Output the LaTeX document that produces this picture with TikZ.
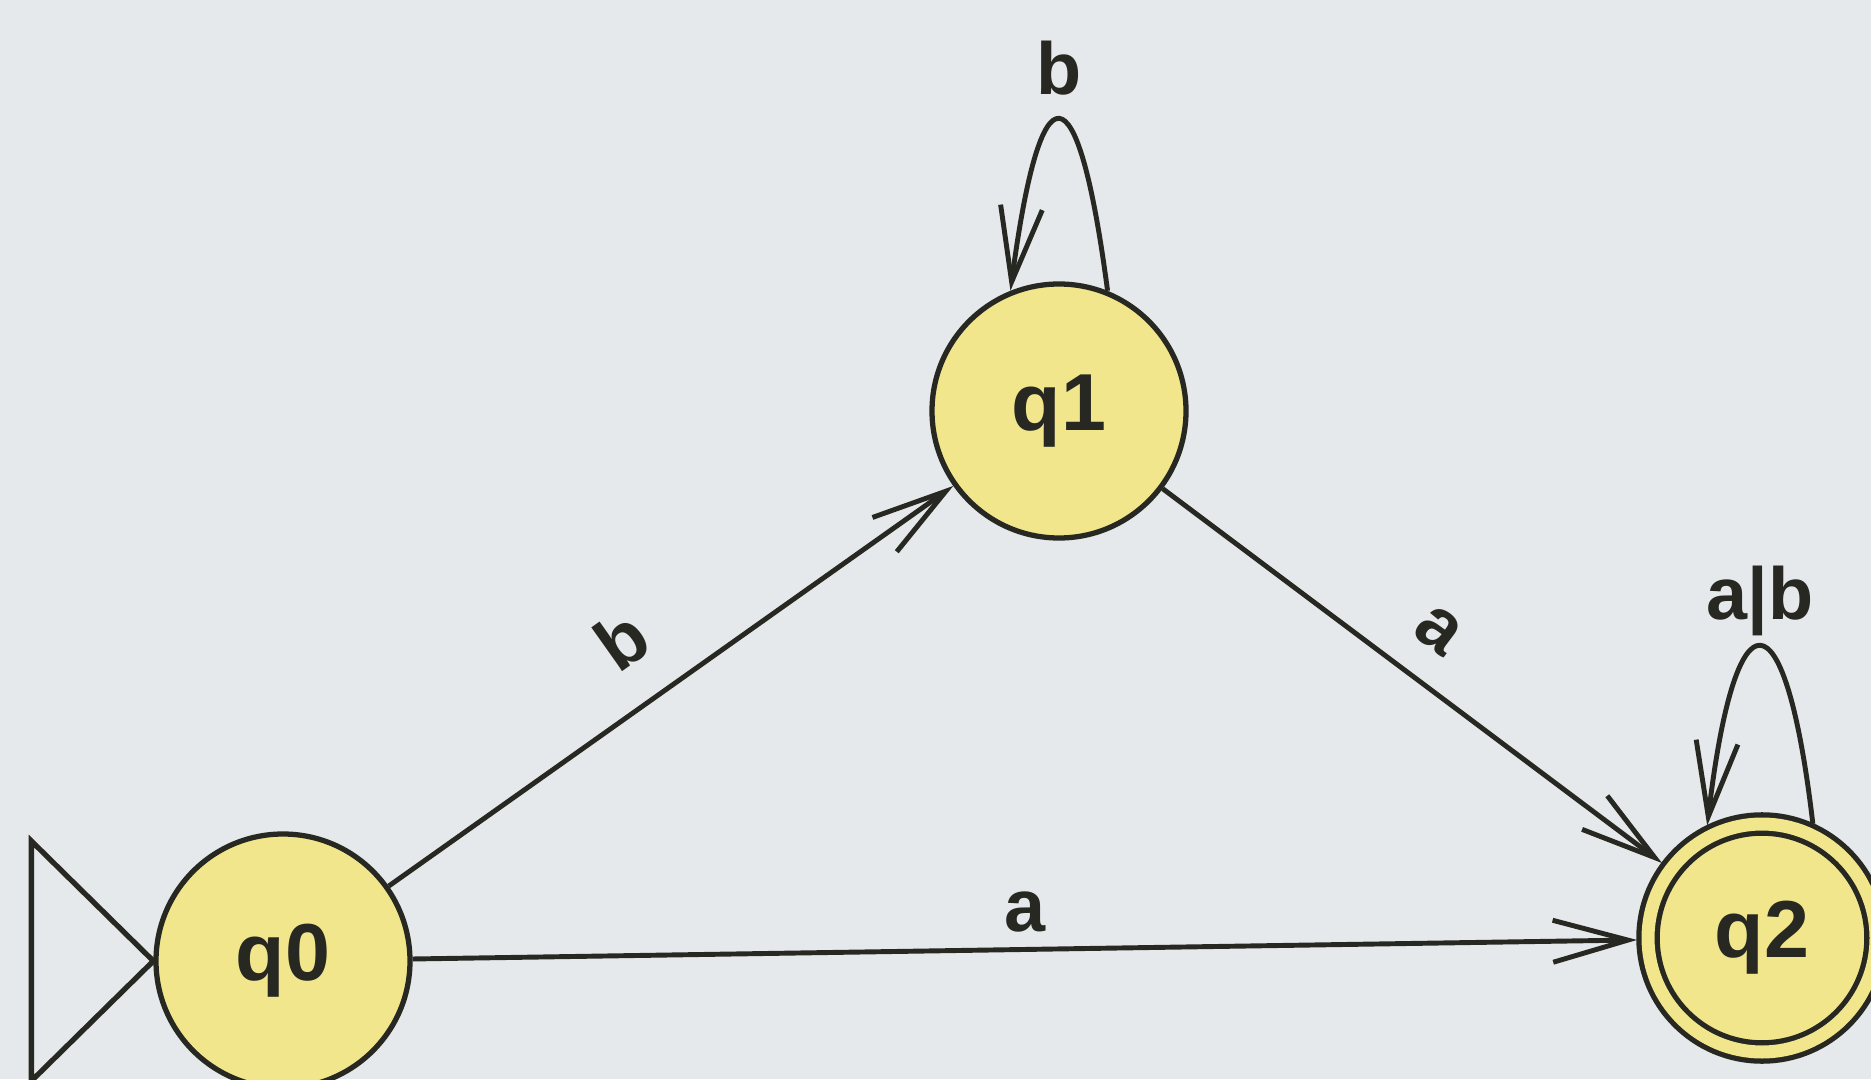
\documentclass[tikz,border=0pt]{standalone}
\usepackage{fontspec}
\setmainfont{Liberation Sans}
\usetikzlibrary{arrows.meta}
\definecolor{paper}{RGB}{229,233,235}
\definecolor{statefill}{RGB}{241,230,140}
\definecolor{ink}{RGB}{40,40,34}

\begin{document}
\begin{tikzpicture}[
  state/.style={circle, draw=ink, fill=statefill, line width=1.5pt, minimum size=2.54cm, inner sep=0pt, text=ink, font=\fontsize{23}{23}\selectfont\bfseries},
  accepting/.style={double=statefill, double distance=1.3mm, minimum size=2.28cm, outer sep=1.1mm},
  edge/.style={draw=ink, line width=1.4pt, -{Straight Barb[length=7.5mm,width=4.2mm]}},
  lbl/.style={text=ink, font=\fontsize{21}{21}\selectfont\bfseries}
]
\fill[paper] (0,0) rectangle (18.71,10.79);
\useasboundingbox (0,0) rectangle (18.71,10.79);

\node[state] (q0) at (2.83,1.18) {q0};
\node[state] (q1) at (10.59,6.68) {q1};
\node[state, accepting] (q2) at (17.62,1.41) {q2};

% start marker
\draw[ink, line width=1.5pt] (q0.west) -- ++(-1.22,1.2) -- ++(0,-2.4) -- cycle;

\draw[edge] (q0) -- node[lbl, sloped, above=7pt, pos=0.48] {b} (q1);
\draw[edge] (q1) -- node[lbl, sloped, above=5pt, pos=0.49] {a} (q2);
\draw[edge] (q0) -- node[lbl, above=1pt] {a} (q2);

% loops
\draw[edge] (q1.68) .. controls +(97.5:2.3) and +(82.5:2.3) .. node[lbl, above=3pt] {b} (q1.112);
\draw[edge] (q2.66) .. controls +(96.7:2.39) and +(83.3:2.39) .. node[lbl, above=-1pt] {a|b} (q2.116);
\end{tikzpicture}
\end{document}
